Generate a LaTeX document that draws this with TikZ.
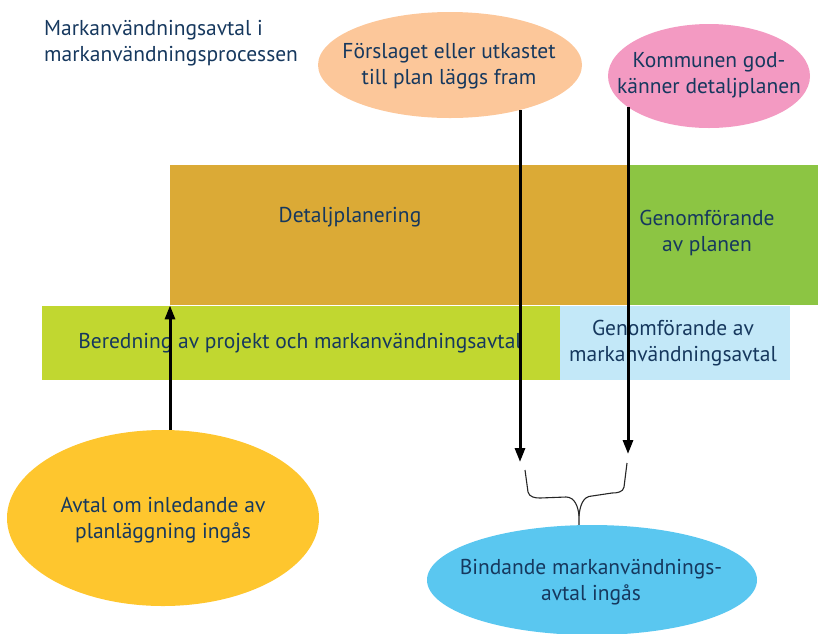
\documentclass[tikz,border=0pt]{standalone}
\usepackage{fontspec}
\setmainfont{PT Sans}
\usetikzlibrary{shapes.geometric,arrows.meta}
\definecolor{txt}{RGB}{22,56,94}
\definecolor{peach}{RGB}{252,199,154}
\definecolor{pinkc}{RGB}{243,154,194}
\definecolor{ochre}{RGB}{219,170,54}
\definecolor{greenc}{RGB}{140,197,67}
\definecolor{limec}{RGB}{193,215,48}
\definecolor{lblue}{RGB}{195,232,248}
\definecolor{yellowc}{RGB}{254,198,46}
\definecolor{bluec}{RGB}{90,199,240}
\tikzset{
  lbl/.style={text=txt,font=\fontsize{21.5}{26}\selectfont,align=center},
  band/.style={draw=none,inner sep=0pt,anchor=north west},
  oval/.style={ellipse,draw=none,inner sep=0pt},
  arr/.style={line width=3pt,-{Triangle[length=14pt,width=10pt]}},
  bracel/.style={line width=1.1pt,black!85}
}
\begin{document}
\begin{tikzpicture}[x=1pt,y=-1pt]
\useasboundingbox (0,0) rectangle (818,633);
% bands
\node[band,fill=ochre,minimum width=458pt,minimum height=140pt] (det) at (170,165) {};
\node[band,fill=greenc,minimum width=190pt,minimum height=140pt] (gen) at (628,165) {};
\node[band,fill=limec,minimum width=518pt,minimum height=74pt] (ber) at (42,306) {};
\node[band,fill=lblue,minimum width=230pt,minimum height=74pt] (gma) at (560,306) {};
\node[lbl] (tdet) at (350,217) {Detaljplanering};
\node[lbl] (tgen) at (707,233) {Genomförande\\av planen};
\node[lbl] (tber) at (300,343) {Beredning av projekt och markanvändningsavtal};
\node[lbl] (tgma) at (673,343) {Genomförande av\\markanvändningsavtal};
% title
\node[lbl,align=left,anchor=north west,inner sep=0pt] (title) at (44,20) {Markanvändningsavtal i\\markanvändningsprocessen};
% ellipses
\node[oval,fill=peach,minimum width=264pt,minimum height=106pt] (peach) at (450,65) {};
\node[lbl] (tpeach) at (449,66) {Förslaget eller utkastet\\till plan läggs fram};
\node[oval,fill=pinkc,minimum width=202pt,minimum height=104pt] (pink) at (709,76) {};
\node[lbl] (tpink) at (709,75) {Kommunen god-\\känner detaljplanen};
\node[oval,fill=yellowc,minimum width=312pt,minimum height=176pt] (yel) at (163,518) {};
\node[lbl] (tyel) at (163,520) {Avtal om inledande av\\planläggning ingås};
\node[oval,fill=bluec,minimum width=330pt,minimum height=110pt] (blu) at (592,580) {};
\node[lbl] (tblu) at (591,582) {Bindande markanvändnings-\\avtal ingås};
% arrows
\coordinate (e1) at (520,462);
\coordinate (e2) at (628,454);
\draw[arr] (yel.north -| det.south west) -- (det.south west);
\draw[arr] (e1 |- peach.-33) -- (e1);
\draw[arr] (e2 |- pink.-159) -- (e2);
% brace
\coordinate (bl) at (525,470);
\coordinate (br) at (627,463);
\coordinate (bt) at (579,516);
\draw[bracel] (bl) -- (528,492) to[out=-75,in=180] (540,498) -- (566,497)
  to[out=0,in=95] (bt) -- (bt |- blu.north);
\draw[bracel] (br) -- (624,487) to[out=-100,in=0] (612,493) -- (592,496)
  to[out=180,in=85] (bt);
\end{tikzpicture}
\end{document}
